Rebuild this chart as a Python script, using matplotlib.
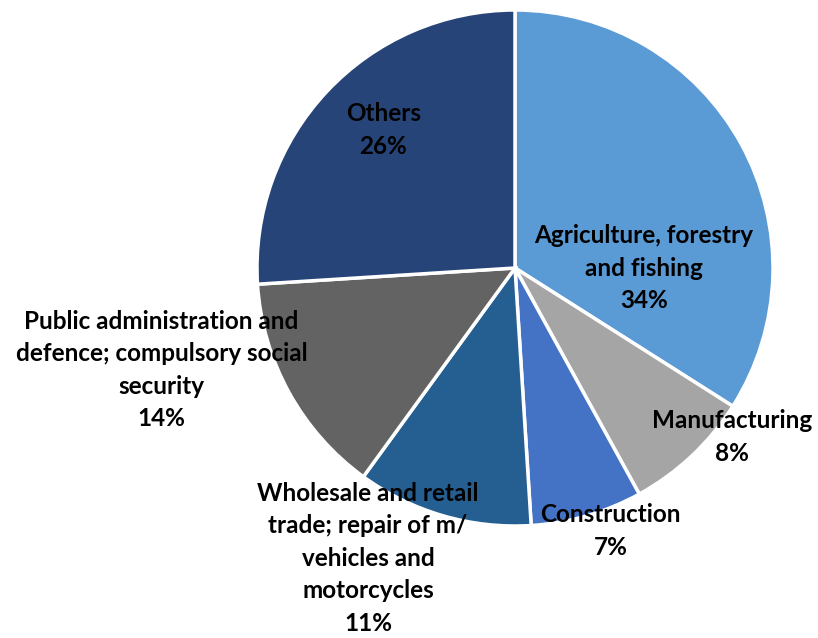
import matplotlib.pyplot as plt

# Share of employment by sector
sectors = ["Agriculture, forestry\nand fishing", "Manufacturing", "Construction",
           "Wholesale and retail\ntrade; repair of m/\nvehicles and\nmotorcycles",
           "Public administration and\ndefence; compulsory social\nsecurity", "Others"]
shares = [34, 8, 7, 11, 14, 26]
colors = ["#5B9BD5", "#A5A5A5", "#4472C4", "#255E91", "#636363", "#264478"]

# label anchor points (data coords, pie radius = 1)
label_x = [0.50, 0.84, 0.37, -0.57, -1.37, -0.51]
label_y = [0.0, -0.655, -1.02, -1.125, -0.395, 0.535]

plt.rcParams['font.family'] = ['Lato', 'DejaVu Sans']

fig = plt.figure(figsize=(8.18, 6.38), dpi=100)
ax = fig.add_axes([(515 - 258) / 818, (370 - 258) / 638, 516 / 818, 516 / 638])
ax.pie(shares, colors=colors, startangle=90, counterclock=False, radius=1,
       wedgeprops=dict(edgecolor="white", linewidth=2.5))
ax.set_xlim(-1, 1)
ax.set_ylim(-1, 1)
ax.set_aspect("equal")

for name, val, x, y in zip(sectors, shares, label_x, label_y):
    ax.text(x, y, f"{name}\n{val}%", ha="center", va="center", fontsize=17.5,
            fontweight="bold", color="black", linespacing=1.5, clip_on=False)

fig.savefig("out.png", dpi=100)
